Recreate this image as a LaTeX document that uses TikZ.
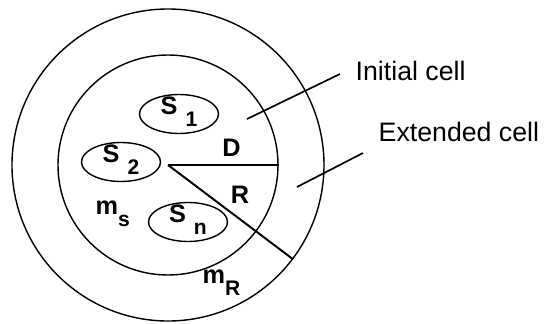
\documentclass[tikz,border=0pt]{standalone}
\usepackage{fontspec}
\setmainfont{Liberation Sans}
\usetikzlibrary{shapes.geometric}
\newcommand{\lowsub}[1]{\raisebox{-0.3cm}{\fontsize{15}{17}\selectfont #1}}

\begin{document}
\begin{tikzpicture}[line width=1pt,
  cell/.style={draw,circle,inner sep=0pt},
  src/.style={draw,ellipse,minimum width=1.975cm,minimum height=0.975cm,inner sep=0pt,
    font=\fontsize{18}{21}\selectfont\bfseries},
  lbl/.style={anchor=base,inner sep=0pt,font=\fontsize{18}{21}\selectfont\bfseries},
  tag/.style={anchor=base west,inner sep=0pt,font=\fontsize{19}{23}\selectfont}]
\useasboundingbox (-4.2,-3.95) rectangle (9.5,4.125);
\node[cell,minimum size=7.8cm] (ext) at (0,0) {};
\node[cell,minimum size=5.5cm] (ini) at (0,0) {};
\coordinate (o) at (0,0);
% sources
\node[src] (s1) at (0.275,1.275) {\smash{S\hspace{0.2cm}\lowsub{1}}};
\node[src] (s2) at (-1.175,0.075) {\smash{S\hspace{0.2cm}\lowsub{2}}};
\node[src] (sn) at (0.5,-1.425) {\smash{S\hspace{0.2cm}\lowsub{n}}};
% radii
\draw[line width=1.4pt] (o) -- (ini.east);
\draw[line width=1.4pt] (o) -- (ext.-37);
\node[lbl] (dl) at (1.59,0.225) {D};
\node[lbl] (rl) at (1.8,-0.95) {R};
\node[lbl,anchor=base west] (ms) at (-1.825,-1.225) {m\lowsub{s}};
\node[lbl,anchor=base west] (mr) at (0.85,-2.95) {m\lowsub{R}};
% leaders
\coordinate (p1) at (1.975,1.15);
\coordinate (q1) at (4.3,2.275);
\coordinate (p2) at (3.225,-0.55);
\coordinate (q2) at (4.875,0.3);
\draw[line width=1.2pt] (p1) -- (q1);
\draw[line width=1.2pt] (p2) -- (q2);
\node[tag] (init) at (4.675,2.125) {Initial cell};
\node[tag] (extd) at (5.25,0.6) {Extended cell};
\end{tikzpicture}
\end{document}
